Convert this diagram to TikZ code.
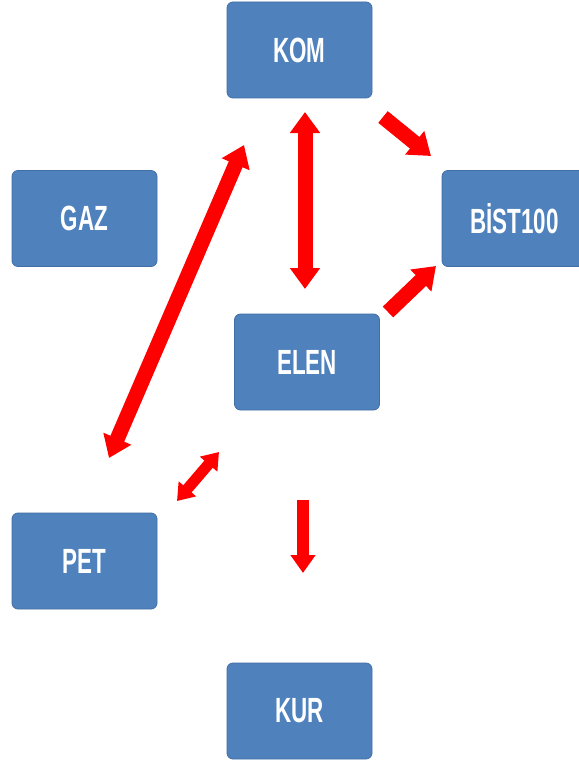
\documentclass[tikz,border=0pt]{standalone}
\usepackage{fontspec}
\setmainfont{Liberation Sans}
\usepackage{graphicx}
\usetikzlibrary{arrows.meta}
\definecolor{boxblue}{RGB}{79,129,189}
\definecolor{boxedge}{RGB}{65,110,165}
\definecolor{arrred}{RGB}{255,0,0}
\newcommand\sqtxt[1]{\scalebox{0.64}[1]{#1}}
\tikzset{
  vbox/.style={rectangle, rounded corners=6pt, fill=boxblue, draw=boxedge, line width=0.8pt,
    minimum width=145pt, minimum height=96pt, inner sep=0pt, text=white,
    font=\fontsize{35}{35}\selectfont\bfseries},
  bigarr/.style={draw=arrred, line width=15pt, -{Triangle[width=29pt,length=21pt]}},
  bigdbl/.style={draw=arrred, line width=15pt, {Triangle[width=29pt,length=21pt]}-{Triangle[width=29pt,length=21pt]}},
  smallarr/.style={draw=arrred, line width=12pt, -{Triangle[width=24pt,length=18pt]}},
  smalldbl/.style={draw=arrred, line width=11pt, {Triangle[width=22pt,length=16pt]}-{Triangle[width=22pt,length=16pt]}}
}
\begin{document}
\begin{tikzpicture}[x=1pt,y=-1pt]
\useasboundingbox (0,0) rectangle (578,765);
\fill[white] (0,0) rectangle (578,765);
\node[vbox] (kom) at (299.5,50) {\sqtxt{KOM}};
\node[vbox] (gaz) at (84.5,218.5) {\sqtxt{GAZ}};
\node[vbox] (bist) at (514.5,218.5) {\sqtxt{BİST100}};
\node[vbox] (elen) at (307,362) {\sqtxt{ELEN}};
\node[vbox] (pet) at (84.5,561) {\sqtxt{PET}};
\node[vbox] (kur) at (299.5,711) {\sqtxt{KUR}};
% arrow end points
\coordinate (ke1) at (305,112);
\coordinate (ke2) at (305,289);
\coordinate (kb1) at (383,117);
\coordinate (kb2) at (431,156);
\coordinate (eb1) at (388,312);
\coordinate (eb2) at (436,266);
\coordinate (pk1) at (109,458);
\coordinate (pk2) at (244,145);
\coordinate (pe1) at (177,501);
\coordinate (pe2) at (219,452);
\coordinate (ek1) at (303,500);
\coordinate (ek2) at (303,573);
\draw[bigdbl] (ke1) -- (ke2);
\draw[bigarr] (kb1) -- (kb2);
\draw[bigarr] (eb1) -- (eb2);
\draw[bigdbl] (pk1) -- (pk2);
\draw[smalldbl] (pe1) -- (pe2);
\draw[smallarr] (ek1) -- (ek2);
\end{tikzpicture}
\end{document}
